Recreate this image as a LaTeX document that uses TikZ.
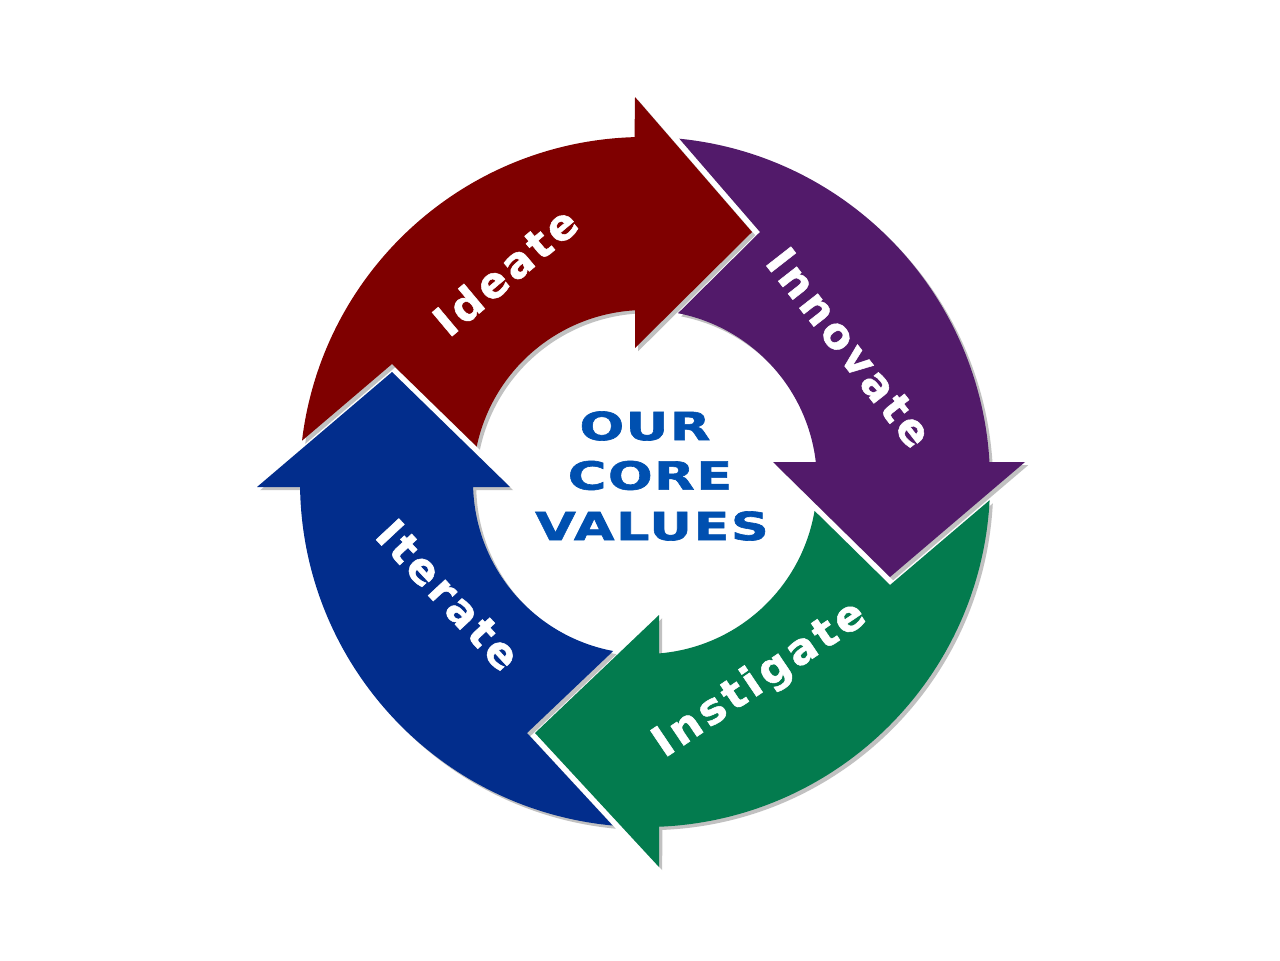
\documentclass[tikz,border=0pt]{standalone}
\usepackage{fontspec}
\newfontfamily\lblfont[LetterSpace=9,FakeBold=1.2]{DejaVu Sans}
\newfontfamily\corefont[FakeStretch=1.36,LetterSpace=4,FakeBold=1.6]{DejaVu Sans}
\usetikzlibrary{shadows}
\definecolor{cRed}{RGB}{127,0,0}
\definecolor{cPurple}{RGB}{82,26,106}
\definecolor{cGreen}{RGB}{3,123,78}
\definecolor{cBlue}{RGB}{2,45,140}
\definecolor{cText}{RGB}{0,80,176}
\begin{document}
\begin{tikzpicture}[x=0.75pt,y=-0.75pt,
  arrowshape/.style={drop shadow={shadow xshift=2.4pt,shadow yshift=-2.4pt,opacity=0.4,fill=black!60}},
  lbl/.style={text=white,font=\lblfont\bfseries\fontsize{32}{38}\selectfont,inner sep=0pt},
  core/.style={text=cText,font=\corefont\bfseries\fontsize{29}{35}\selectfont,inner sep=0pt}]
\fill[white] (0,0) rectangle (1280,960);
\useasboundingbox (0,0) rectangle (1280,960);
% Ideate (red)
\fill[cRed,arrowshape] (302,440.7) arc[start angle=186.87,end angle=268.34,radius=345]
  -- (635,97) -- (752,232) -- (635,348) -- (635,310.3)
  arc[start angle=266.67,end angle=191.9,radius=172] -- (392,364) -- cycle;
% Innovate (purple)
\fill[cPurple,arrowshape] (679.3,138.7) arc[start angle=-84.3,end angle=-3.32,radius=345]
  -- (1025,462) -- (890,577) -- (773,462) -- (815.8,462)
  arc[start angle=-6.68,end angle=-78.93,radius=172] -- (760,232) -- cycle;
% Instigate (green)
\fill[cGreen,arrowshape] (989.6,500.2) arc[start angle=3.02,end angle=87.67,radius=345]
  -- (659,867) -- (535,733) -- (659,615) -- (659,653.4)
  arc[start angle=85.33,end angle=9.67,radius=172] -- (890,585) -- cycle;
% Iterate (blue)
\fill[cBlue,arrowshape] (612.6,825.5) arc[start angle=95.39,end angle=179.17,radius=345]
  -- (257,487) -- (392,372) -- (510,487) -- (473.1,487)
  arc[start angle=178.33,end angle=100.66,radius=172] -- (527,733) -- cycle;
% labels
\node[lbl,rotate=40] (ideate) at (505,271) {Ideate};
\node[lbl,rotate=-52] (innovate) at (849.5,347.5) {Innovate};
\node[lbl,rotate=34] (instigate) at (760,680) {Instigate};
\node[lbl,rotate=-47] (iterate) at (448.5,595) {Iterate};
% centre text
\node[core] (our) at (645,426) {OUR};
\node[core] (corew) at (650,475.5) {CORE};
\node[core] (values) at (652,526) {VALUES};
\end{tikzpicture}
\end{document}
